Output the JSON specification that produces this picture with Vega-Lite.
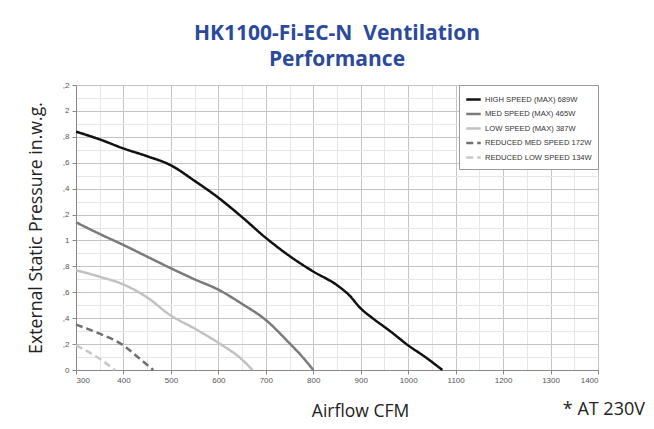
{
  "$schema": "https://vega.github.io/schema/vega-lite/v6.json",
  "width": 522,
  "height": 285,
  "autosize": "none",
  "padding": {"left": 76, "top": 85, "right": 56, "bottom": 59},
  "background": "white",
  "title": {
    "text": ["HK1100-Fi-EC-N\u00a0 Ventilation", "Performance"],
    "font": "Open Sans",
    "fontSize": 21,
    "fontWeight": "bold",
    "color": "#2b4a9b",
    "anchor": "middle",
    "offset": 11,
    "lineHeight": 26
  },
  "config": {
    "view": {"stroke": "#999", "strokeWidth": 1},
    "axis": {
      "labelFont": "Liberation Sans",
      "labelFontSize": 8,
      "labelColor": "#555",
      "tickColor": "#888",
      "tickSize": 4,
      "domainColor": "#888",
      "titleFont": "Open Sans",
      "titleFontWeight": "normal",
      "titleColor": "#222"
    },
    "legend": {
      "orient": "top-right",
      "offset": 0,
      "fillColor": "white",
      "strokeColor": "#999",
      "padding": 6,
      "symbolType": "stroke",
      "symbolStrokeWidth": 2.5,
      "symbolSize": 210,
      "labelFont": "Liberation Sans",
      "labelFontSize": 7.6,
      "labelColor": "#333",
      "labelOffset": 3,
      "rowPadding": 0.5
    }
  },
  "resolve": {"axis": {"x": "independent", "y": "independent"}},
  "data": {
    "values": [
      {"series": "HIGH SPEED (MAX) 689W", "cfm": 300, "p": 1.84},
      {"series": "HIGH SPEED (MAX) 689W", "cfm": 350, "p": 1.78},
      {"series": "HIGH SPEED (MAX) 689W", "cfm": 400, "p": 1.71},
      {"series": "HIGH SPEED (MAX) 689W", "cfm": 450, "p": 1.65},
      {"series": "HIGH SPEED (MAX) 689W", "cfm": 500, "p": 1.58},
      {"series": "HIGH SPEED (MAX) 689W", "cfm": 550, "p": 1.46},
      {"series": "HIGH SPEED (MAX) 689W", "cfm": 600, "p": 1.33},
      {"series": "HIGH SPEED (MAX) 689W", "cfm": 650, "p": 1.18},
      {"series": "HIGH SPEED (MAX) 689W", "cfm": 700, "p": 1.02},
      {"series": "HIGH SPEED (MAX) 689W", "cfm": 750, "p": 0.88},
      {"series": "HIGH SPEED (MAX) 689W", "cfm": 800, "p": 0.76},
      {"series": "HIGH SPEED (MAX) 689W", "cfm": 850, "p": 0.655},
      {"series": "HIGH SPEED (MAX) 689W", "cfm": 875, "p": 0.58},
      {"series": "HIGH SPEED (MAX) 689W", "cfm": 900, "p": 0.475},
      {"series": "HIGH SPEED (MAX) 689W", "cfm": 925, "p": 0.40},
      {"series": "HIGH SPEED (MAX) 689W", "cfm": 962, "p": 0.30},
      {"series": "HIGH SPEED (MAX) 689W", "cfm": 1000, "p": 0.19},
      {"series": "HIGH SPEED (MAX) 689W", "cfm": 1036, "p": 0.10},
      {"series": "HIGH SPEED (MAX) 689W", "cfm": 1072, "p": 0},
      {"series": "MED SPEED (MAX) 465W", "cfm": 300, "p": 1.14},
      {"series": "MED SPEED (MAX) 465W", "cfm": 350, "p": 1.05},
      {"series": "MED SPEED (MAX) 465W", "cfm": 400, "p": 0.965},
      {"series": "MED SPEED (MAX) 465W", "cfm": 450, "p": 0.875},
      {"series": "MED SPEED (MAX) 465W", "cfm": 500, "p": 0.785},
      {"series": "MED SPEED (MAX) 465W", "cfm": 550, "p": 0.70},
      {"series": "MED SPEED (MAX) 465W", "cfm": 600, "p": 0.62},
      {"series": "MED SPEED (MAX) 465W", "cfm": 650, "p": 0.51},
      {"series": "MED SPEED (MAX) 465W", "cfm": 700, "p": 0.386},
      {"series": "MED SPEED (MAX) 465W", "cfm": 750, "p": 0.206},
      {"series": "MED SPEED (MAX) 465W", "cfm": 775, "p": 0.11},
      {"series": "MED SPEED (MAX) 465W", "cfm": 800, "p": 0},
      {"series": "LOW SPEED (MAX) 387W", "cfm": 300, "p": 0.77},
      {"series": "LOW SPEED (MAX) 387W", "cfm": 350, "p": 0.72},
      {"series": "LOW SPEED (MAX) 387W", "cfm": 400, "p": 0.66},
      {"series": "LOW SPEED (MAX) 387W", "cfm": 450, "p": 0.56},
      {"series": "LOW SPEED (MAX) 387W", "cfm": 500, "p": 0.42},
      {"series": "LOW SPEED (MAX) 387W", "cfm": 550, "p": 0.32},
      {"series": "LOW SPEED (MAX) 387W", "cfm": 600, "p": 0.21},
      {"series": "LOW SPEED (MAX) 387W", "cfm": 650, "p": 0.08},
      {"series": "LOW SPEED (MAX) 387W", "cfm": 672, "p": 0},
      {"series": "REDUCED MED SPEED 172W", "cfm": 300, "p": 0.35},
      {"series": "REDUCED MED SPEED 172W", "cfm": 350, "p": 0.28},
      {"series": "REDUCED MED SPEED 172W", "cfm": 400, "p": 0.19},
      {"series": "REDUCED MED SPEED 172W", "cfm": 430, "p": 0.10},
      {"series": "REDUCED MED SPEED 172W", "cfm": 463, "p": 0},
      {"series": "REDUCED LOW SPEED 134W", "cfm": 300, "p": 0.19},
      {"series": "REDUCED LOW SPEED 134W", "cfm": 340, "p": 0.11},
      {"series": "REDUCED LOW SPEED 134W", "cfm": 382, "p": 0}
    ]
  },
  "layer": [
    {
      "data": {"values": [{"note": "* AT 230V"}]},
      "mark": {"type": "text", "font": "Open Sans", "fontSize": 18, "color": "#222", "align": "right", "baseline": "middle", "clip": false},
      "encoding": {
        "text": {"field": "note"},
        "x": {
          "datum": 1499,
          "axis": {"orient": "top", "values": [350, 450, 550, 650, 750, 850, 950, 1050, 1150, 1250, 1350], "grid": true, "gridColor": "#e6e6e6", "labels": false, "ticks": false, "domain": false, "title": null}
        },
        "y": {
          "datum": -0.309,
          "axis": {"orient": "right", "values": [0.1, 0.3, 0.5, 0.7, 0.9, 1.1, 1.3, 1.5, 1.7, 1.9, 2.1], "grid": true, "gridColor": "#e6e6e6", "labels": false, "ticks": false, "domain": false, "title": null}
        }
      }
    },
    {
      "mark": {"type": "line", "interpolate": "monotone", "strokeWidth": 2.5},
      "encoding": {
        "x": {
          "field": "cfm",
          "type": "quantitative",
          "scale": {"domain": [300, 1400], "nice": false, "zero": false},
          "axis": {
            "orient": "bottom",
            "grid": true,
            "gridColor": "#c4c4c4",
            "values": [300, 400, 500, 600, 700, 800, 900, 1000, 1100, 1200, 1300, 1400],
            "format": "d",
            "labelOverlap": false,
            "labelPadding": 2,
            "title": "Airflow CFM",
            "titleFontSize": 17.5,
            "titlePadding": 18,
            "titleX": 284,
            "titleAlign": "center"
          }
        },
        "y": {
          "field": "p",
          "type": "quantitative",
          "scale": {"domain": [0, 2.2], "nice": false},
          "axis": {
            "orient": "left",
            "grid": true,
            "gridColor": "#c4c4c4",
            "values": [0, 0.2, 0.4, 0.6, 0.8, 1, 1.2, 1.4, 1.6, 1.8, 2, 2.2],
            "labelExpr": "round(datum.value * 10) % 10 === 0 ? '' + round(datum.value) : ',' + (round(datum.value * 10) % 10)",
            "labelOverlap": false,
            "labelPadding": 3,
            "title": "External Static Pressure in.w.g.",
            "titleFontSize": 17.7,
            "titlePadding": 17
          }
        },
        "color": {
          "field": "series",
          "type": "nominal",
          "title": null,
          "scale": {
            "domain": ["HIGH SPEED (MAX) 689W", "MED SPEED (MAX) 465W", "LOW SPEED (MAX) 387W", "REDUCED MED SPEED 172W", "REDUCED LOW SPEED 134W"],
            "range": ["#111111", "#7a7a7a", "#c2c2c2", "#707070", "#c8c8c8"]
          }
        },
        "strokeDash": {
          "field": "series",
          "type": "nominal",
          "title": null,
          "scale": {
            "domain": ["HIGH SPEED (MAX) 689W", "MED SPEED (MAX) 465W", "LOW SPEED (MAX) 387W", "REDUCED MED SPEED 172W", "REDUCED LOW SPEED 134W"],
            "range": [[1, 0], [1, 0], [1, 0], [7, 4], [7, 4]]
          }
        }
      }
    }
  ]
}
